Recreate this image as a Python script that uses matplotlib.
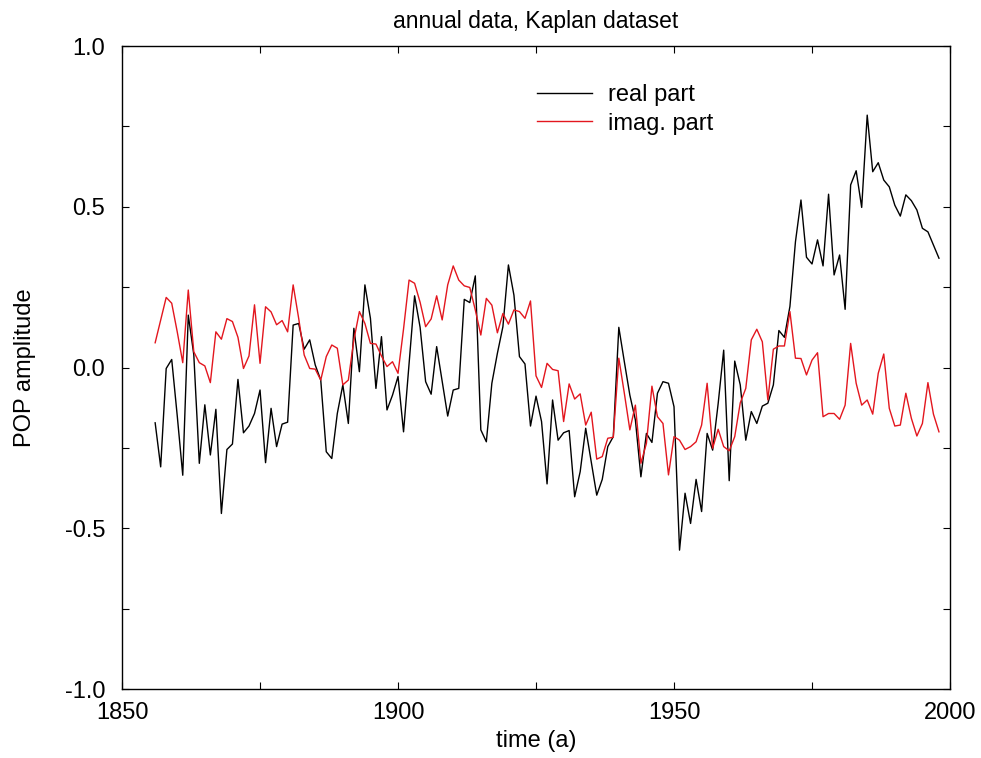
import matplotlib
matplotlib.use("Agg")
import matplotlib.pyplot as plt
import numpy as np
from matplotlib.ticker import MultipleLocator, FixedLocator, FormatStrFormatter

plt.rcParams['font.family'] = ['Liberation Sans', 'DejaVu Sans']
plt.rcParams['axes.unicode_minus'] = False

# annual POP amplitudes, 1856-1998
years = np.arange(1856, 1999)

real_part = [
    -0.172, -0.309, -0.003, 0.025, -0.150, -0.335, 0.163, 0.040, -0.298, -0.116,
    -0.272, -0.130, -0.454, -0.255, -0.238, -0.037, -0.203, -0.182, -0.143, -0.070,
    -0.296, -0.127, -0.246, -0.176, -0.170, 0.132, 0.137, 0.057, 0.086, 0.008,
    -0.039, -0.262, -0.283, -0.143, -0.054, -0.174, 0.122, -0.013, 0.257, 0.153,
    -0.065, 0.096, -0.132, -0.086, -0.028, -0.200, 0.013, 0.223, 0.125, -0.044,
    -0.083, 0.065, -0.044, -0.151, -0.070, -0.065, 0.212, 0.202, 0.285, -0.194,
    -0.231, -0.049, 0.044, 0.127, 0.319, 0.225, 0.034, 0.011, -0.182, -0.089,
    -0.168, -0.362, -0.101, -0.226, -0.203, -0.196, -0.402, -0.324, -0.189, -0.293,
    -0.397, -0.348, -0.246, -0.215, 0.125, 0.018, -0.086, -0.163, -0.340, -0.205,
    -0.233, -0.080, -0.044, -0.049, -0.122, -0.568, -0.391, -0.485, -0.348, -0.448,
    -0.205, -0.257, -0.112, 0.054, -0.352, 0.020, -0.054, -0.226, -0.137, -0.174,
    -0.120, -0.111, -0.054, 0.115, 0.094, 0.190, 0.391, 0.521, 0.343, 0.322,
    0.397, 0.316, 0.539, 0.288, 0.350, 0.181, 0.568, 0.612, 0.498, 0.785,
    0.609, 0.637, 0.583, 0.562, 0.505, 0.471, 0.537, 0.519, 0.490, 0.433,
    0.422, 0.381, 0.340,
]

imag_part = [
    0.077, 0.148, 0.218, 0.200, 0.111, 0.015, 0.241, 0.049, 0.015, 0.005,
    -0.047, 0.111, 0.088, 0.152, 0.143, 0.094, -0.003, 0.036, 0.195, 0.013,
    0.189, 0.173, 0.133, 0.146, 0.111, 0.257, 0.153, 0.039, -0.003, -0.005,
    -0.039, 0.034, 0.070, 0.060, -0.054, -0.039, 0.086, 0.174, 0.137, 0.075,
    0.073, 0.036, 0.003, 0.018, -0.018, 0.120, 0.272, 0.262, 0.203, 0.127,
    0.151, 0.223, 0.148, 0.257, 0.316, 0.272, 0.254, 0.249, 0.179, 0.101,
    0.215, 0.194, 0.108, 0.168, 0.135, 0.179, 0.174, 0.153, 0.207, -0.026,
    -0.062, 0.013, -0.006, -0.010, -0.168, -0.051, -0.098, -0.082, -0.179, -0.139,
    -0.285, -0.277, -0.220, -0.217, 0.029, -0.080, -0.194, -0.117, -0.298, -0.236,
    -0.058, -0.153, -0.174, -0.334, -0.215, -0.226, -0.255, -0.246, -0.231, -0.179,
    -0.049, -0.251, -0.192, -0.246, -0.259, -0.215, -0.110, -0.065, 0.086, 0.119,
    0.080, -0.101, 0.057, 0.067, 0.067, 0.174, 0.029, 0.028, -0.023, 0.023,
    0.046, -0.153, -0.143, -0.143, -0.161, -0.117, 0.075, -0.049, -0.117, -0.101,
    -0.145, -0.018, 0.042, -0.127, -0.182, -0.179, -0.080, -0.158, -0.213, -0.174,
    -0.047, -0.145, -0.200,
]

x_ticks = [1850, 1900, 1950, 2000]
y_ticks = [-1.0, -0.5, 0.0, 0.5, 1.0]

fig = plt.figure(figsize=(9.81, 7.58), dpi=100)
ax = fig.add_axes([0.1244, 0.0910, 0.8440, 0.8483])

ax.plot(years, real_part, color='black', lw=1.0, label='real part')
ax.plot(years, imag_part, color='#e3161e', lw=1.0, label='imag. part')

ax.set_xlim(1850, 2000)
ax.set_ylim(-1.0, 1.0)
ax.xaxis.set_major_locator(FixedLocator(x_ticks))
ax.xaxis.set_minor_locator(MultipleLocator(25))
ax.yaxis.set_major_locator(FixedLocator(y_ticks))
ax.yaxis.set_minor_locator(MultipleLocator(0.25))
ax.yaxis.set_major_formatter(FormatStrFormatter('%.1f'))
ax.tick_params(which='both', direction='in', top=True, right=True,
               length=5, width=0.8, labelsize=17)
ax.tick_params(axis='x', pad=9)
ax.tick_params(axis='y', pad=12)
for s in ax.spines.values():
    s.set_linewidth(1.0)

ax.set_xlabel('time (a)', fontsize=17, labelpad=5)
ax.set_ylabel('POP amplitude', fontsize=17, labelpad=21)
ax.set_title('annual data, Kaplan dataset', fontsize=16.5, pad=13)

ax.legend(loc='upper left', bbox_to_anchor=(0.501, 0.941), frameon=False,
          fontsize=17, handlelength=2.33, handletextpad=0.68, labelspacing=0.28,
          borderpad=0, borderaxespad=0)

fig.savefig('out.png', dpi=100)
